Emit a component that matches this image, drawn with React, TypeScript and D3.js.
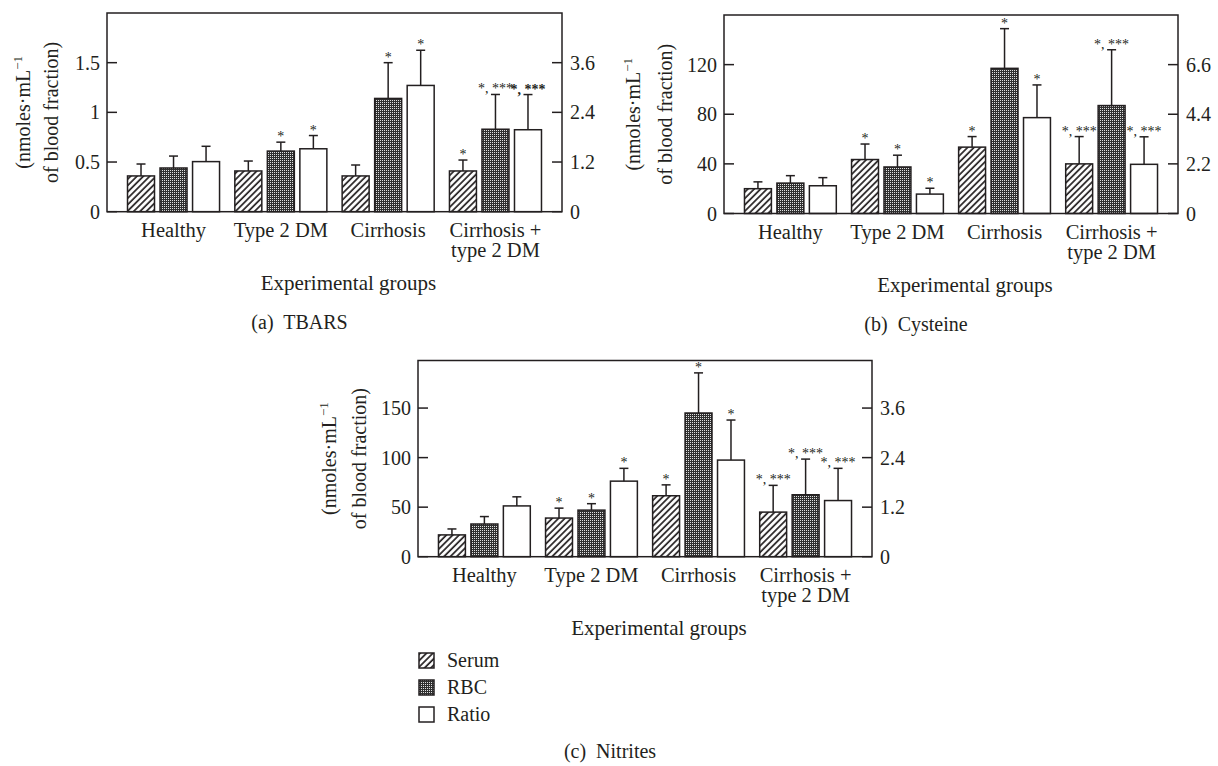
import React from "react";
import * as d3 from "d3";

const groups = ["Healthy", "Type 2 DM", "Cirrhosis", "Cirrhosis +|type 2 DM"];
const series = ["Serum", "RBC", "Ratio"];

// (a) TBARS
const tbarsSerum = [0.36, 0.41, 0.36, 0.41];
const tbarsSerumErr = [0.12, 0.1, 0.11, 0.11];
const tbarsRbc = [0.44, 0.61, 1.14, 0.83];
const tbarsRbcErr = [0.12, 0.09, 0.36, 0.35];
const tbarsRatio = [1.21, 1.52, 3.05, 1.98];
const tbarsRatioErr = [0.37, 0.32, 0.85, 0.85];
const tbarsStars = [
  ["", "", ""],
  ["", "*", "*"],
  ["", "*", "*"],
  ["*", "*, ***", "*, ***"],
];
const tbarsLeftTicks = [0, 0.5, 1, 1.5];
const tbarsRightTicks = [0, 1.2, 2.4, 3.6];

// (b) Cysteine
const cysSerum = [20, 43.5, 53.5, 40];
const cysSerumErr = [5.5, 12.5, 8.5, 22];
const cysRbc = [24.5, 37.5, 117, 87];
const cysRbcErr = [6, 9.5, 32, 45];
const cysRatio = [1.23, 0.86, 4.25, 2.18];
const cysRatioErr = [0.36, 0.26, 1.45, 1.22];
const cysStars = [
  ["", "", ""],
  ["*", "*", "*"],
  ["*", "*", "*"],
  ["*, ***", "*, ***", "*, ***"],
];
const cysLeftTicks = [0, 40, 80, 120];
const cysRightTicks = [0, 2.2, 4.4, 6.6];

// (c) Nitrites
const nitSerum = [22, 39, 61.5, 45];
const nitSerumErr = [6, 10, 11, 27];
const nitRbc = [33, 47, 145, 62.5];
const nitRbcErr = [7.5, 6.5, 40.5, 36];
const nitRatio = [1.23, 1.83, 2.34, 1.36];
const nitRatioErr = [0.22, 0.31, 0.97, 0.78];
const nitStars = [
  ["", "", ""],
  ["*", "*", "*"],
  ["*", "*", "*"],
  ["*, ***", "*, ***", "*, ***"],
];
const nitLeftTicks = [0, 50, 100, 150];
const nitRightTicks = [0, 1.2, 2.4, 3.6];

const ink = "#231f20";
const font = "'Liberation Serif', 'Times New Roman', serif";
const fills = ["url(#hatch)", "url(#dots)", "#ffffff"];

function Panel(props) {
  const { box, leftMax, rightMax, leftTicks, rightTicks, vals, errs, stars, caption, lab1, lab2, boldStar } = props;
  const x0 = d3.scaleBand().domain(groups).range([box.left, box.right]).paddingInner(0).paddingOuter(0.12);
  const x1 = d3.scaleBand().domain(series).range([0, x0.bandwidth()]).paddingInner(0.17).paddingOuter(0.235);
  const yL = d3.scaleLinear().domain([0, leftMax]).range([box.bottom, box.top]);
  const yR = d3.scaleLinear().domain([0, rightMax]).range([box.bottom, box.top]);
  const midX = (box.left + box.right) / 2;
  const midY = (box.top + box.bottom) / 2;

  return (
    <g fontFamily={font} fill={ink}>
      {groups.map((g, gi) =>
        series.map((s, si) => {
          const y = si === 2 ? yR : yL;
          const v = vals[si][gi];
          const e = errs[si][gi];
          const bx = x0(g) + x1(s);
          const cx = bx + x1.bandwidth() / 2;
          const top = y(v + e);
          const st = stars[gi][si];
          const bold = boldStar && boldStar[0] === gi && boldStar[1] === si;
          return (
            <g key={g + s}>
              <rect x={bx} y={y(v)} width={x1.bandwidth()} height={box.bottom - y(v)}
                fill={fills[si]} stroke={ink} strokeWidth={1.5} />
              <line x1={cx} x2={cx} y1={y(v)} y2={top} stroke={ink} strokeWidth={1.5} />
              <line x1={cx - 4.5} x2={cx + 4.5} y1={top} y2={top} stroke={ink} strokeWidth={1.5} />
              {st && (
                <text x={cx} y={top - 1} fontSize={14} textAnchor="middle" fontWeight={bold ? "bold" : "normal"}>
                  {st}
                </text>
              )}
            </g>
          );
        })
      )}

      {/* frame and axes */}
      <rect x={box.left} y={box.top} width={box.right - box.left} height={box.bottom - box.top}
        fill="none" stroke={ink} strokeWidth={1.5} />
      {leftTicks.map((t) => (
        <g key={"l" + t}>
          <line x1={box.left} x2={box.left + 10} y1={yL(t)} y2={yL(t)} stroke={ink} strokeWidth={1.5} />
          <text x={box.left - 7} y={yL(t)} dy="0.35em" fontSize={20} textAnchor="end">{String(t)}</text>
        </g>
      ))}
      {rightTicks.map((t) => (
        <g key={"r" + t}>
          <line x1={box.right - 10} x2={box.right} y1={yR(t)} y2={yR(t)} stroke={ink} strokeWidth={1.5} />
          <text x={box.right + 8} y={yR(t)} dy="0.35em" fontSize={20} textAnchor="start">{String(t)}</text>
        </g>
      ))}

      {/* y label */}
      <text transform={`translate(${box.left + lab1},${midY}) rotate(-90)`} fontSize={20} textAnchor="middle">
        (nmoles·mL<tspan fontSize={13} dy={-8}>−1</tspan>
      </text>
      <text transform={`translate(${box.left + lab2},${midY}) rotate(-90)`} fontSize={20} textAnchor="middle">
        of blood fraction)
      </text>

      {/* categories */}
      {groups.map((g) => {
        const cx = x0(g) + x0.bandwidth() / 2;
        const lines = g.split("|");
        return (
          <text key={"c" + g} x={cx} y={box.bottom + 25} fontSize={20.5} textAnchor="middle">
            {lines.map((ln, i) => (
              <tspan key={ln} x={cx} dy={i === 0 ? 0 : 20}>{ln}</tspan>
            ))}
          </text>
        );
      })}
      <text x={midX + 14} y={box.bottom + 78} fontSize={21} textAnchor="middle">Experimental groups</text>
      {caption && (
        <text x={midX - 35} y={box.bottom + 117} fontSize={20} textAnchor="middle" xmlSpace="preserve">
          {caption}
        </text>
      )}
    </g>
  );
}

export default function App() {
  const legendX = 419;
  const legendY = 653;
  return (
    <svg width={1218} height={766} style={{ position: "absolute", left: 0, top: 0, background: "#fff" }}>
      <defs>
        <pattern id="hatch" patternUnits="userSpaceOnUse" width={4.5} height={4.5} patternTransform="rotate(45)">
          <rect width={4.5} height={4.5} fill="#fff" />
          <line x1={1} x2={1} y1={0} y2={4.5} stroke={ink} strokeWidth={1.7} />
        </pattern>
        <pattern id="dots" patternUnits="userSpaceOnUse" width={2} height={2}>
          <rect width={2} height={2} fill="#303030" />
          <rect width={1} height={1} fill="#e0e0e0" />
        </pattern>
      </defs>

      <Panel
        box={{ left: 107, right: 562, top: 13, bottom: 211.7 }}
        leftMax={2} rightMax={4.8}
        leftTicks={tbarsLeftTicks} rightTicks={tbarsRightTicks}
        vals={[tbarsSerum, tbarsRbc, tbarsRatio]}
        errs={[tbarsSerumErr, tbarsRbcErr, tbarsRatioErr]}
        stars={tbarsStars} caption="(a)  TBARS" lab1={-77} lab2={-49} boldStar={[3, 2]}
      />
      <Panel
        box={{ left: 724, right: 1178, top: 15, bottom: 213.5 }}
        leftMax={160} rightMax={8.8}
        leftTicks={cysLeftTicks} rightTicks={cysRightTicks}
        vals={[cysSerum, cysRbc, cysRatio]}
        errs={[cysSerumErr, cysRbcErr, cysRatioErr]}
        stars={cysStars} caption="(b)  Cysteine" lab1={-84} lab2={-52}
      />
      <Panel
        box={{ left: 418, right: 872, top: 360.5, bottom: 556.7 }}
        leftMax={198} rightMax={4.752}
        leftTicks={nitLeftTicks} rightTicks={nitRightTicks}
        vals={[nitSerum, nitRbc, nitRatio]}
        errs={[nitSerumErr, nitRbcErr, nitRatioErr]}
        stars={nitStars} caption="" lab1={-82} lab2={-52}
      />

      {/* legend */}
      <g fontFamily={font} fill={ink}>
        {series.map((s, i) => (
          <g key={s} transform={`translate(${legendX},${legendY + i * 27})`}>
            <rect width={15} height={15} fill={fills[i]} stroke={ink} strokeWidth={1.5} />
            <text x={28} y={13.5} fontSize={20}>{s}</text>
          </g>
        ))}
        <text x={610} y={758} fontSize={20} textAnchor="middle" xmlSpace="preserve">(c)  Nitrites</text>
      </g>
    </svg>
  );
}
